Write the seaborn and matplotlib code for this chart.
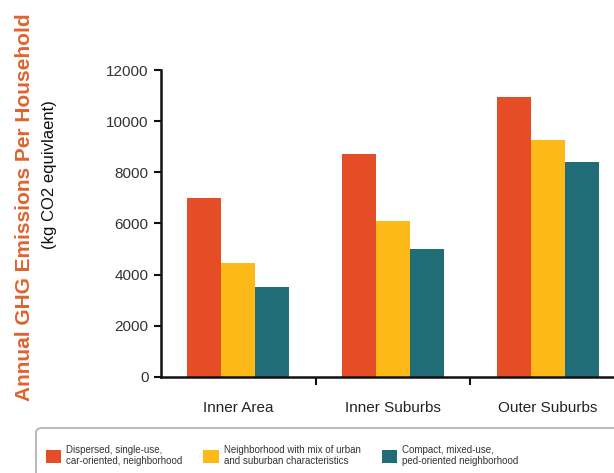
"""
Grouped bar chart: annual GHG emissions per household by area and
neighborhood type.
"""

import matplotlib.pyplot as plt
from matplotlib.patches import FancyBboxPatch
import pandas as pd
import seaborn as sns

areas = ['Inner Area', 'Inner Suburbs', 'Outer Suburbs']
neighborhoods = ['Dispersed, single-use,\ncar-oriented, neighborhood',
                 'Neighborhood with mix of urban\nand suburban characteristics',
                 'Compact, mixed-use,\nped-oriented neighborhood']
dispersed = [7000, 8700, 10950]
mixed = [4450, 6100, 9250]
compact = [3500, 5000, 8400]
colors = ['#E44D26', '#FDB918', '#216D77']

rows = []
for name, values in zip(neighborhoods, [dispersed, mixed, compact]):
    for area, v in zip(areas, values):
        rows.append({'area': area, 'type': name, 'emissions': v})
df = pd.DataFrame(rows)

sns.set_style('white')
plt.rcParams['font.family'] = ['Liberation Sans', 'DejaVu Sans']

fig = plt.figure(figsize=(6.14, 4.73), dpi=100)
ax = fig.add_axes([0.2622, 0.203, 0.7557, 0.649])

sns.barplot(data=df, x='area', y='emissions', hue='type',
            order=areas, hue_order=neighborhoods, palette=colors,
            width=0.66, saturation=1, linewidth=0, ax=ax)

handles, labels = ax.get_legend_handles_labels()
ax.get_legend().remove()

ax.set_ylim(0, 12000)
ax.set_yticks(range(0, 12001, 2000))
ax.set_xlim(-0.5, 2.5)
ax.set_xlabel('')
ax.set_ylabel('')
for side in ['top', 'right']:
    ax.spines[side].set_visible(False)
for side in ['left', 'bottom']:
    ax.spines[side].set_linewidth(1.8)
    ax.spines[side].set_color('#111111')

ax.tick_params(axis='y', which='major', left=True, length=5, width=1.5,
               labelsize=11, labelcolor='#333333', color='#111111', pad=4)
ax.tick_params(axis='x', which='major', bottom=False, labelsize=11,
               labelcolor='#222222', pad=14)
ax.set_xticks([0.5, 1.5], minor=True)
ax.tick_params(axis='x', which='minor', bottom=True, length=6, width=1.5,
               color='#111111')

# two-line axis title: orange bold main line, black units line
fig.text(0.040, 0.562, 'Annual GHG Emissions Per Household', rotation=90,
         color='#E0632E', fontsize=15, fontweight='bold',
         ha='center', va='center')
fig.text(0.081, 0.630, '(kg CO2 equivlaent)', rotation=90,
         color='#111111', fontsize=12, ha='center', va='center')

# legend box running off the bottom/right edges
box = FancyBboxPatch((36 / 614, -0.05), 0.98, (473 - 428) / 473 + 0.05,
                     boxstyle='round,pad=0,rounding_size=0.01',
                     transform=fig.transFigure, facecolor='white',
                     edgecolor='#BBBBBB', linewidth=1.5)
fig.patches.append(box)

fig.legend(handles, labels, ncol=3, loc='upper left',
           bbox_to_anchor=(42 / 614, 1 - 441 / 473), frameon=False,
           fontsize=7, handlelength=1.6, handleheight=1.6,
           handletextpad=0.5, columnspacing=2.15, borderaxespad=0,
           labelcolor='#333333')

fig.savefig('out.png', dpi=100)
